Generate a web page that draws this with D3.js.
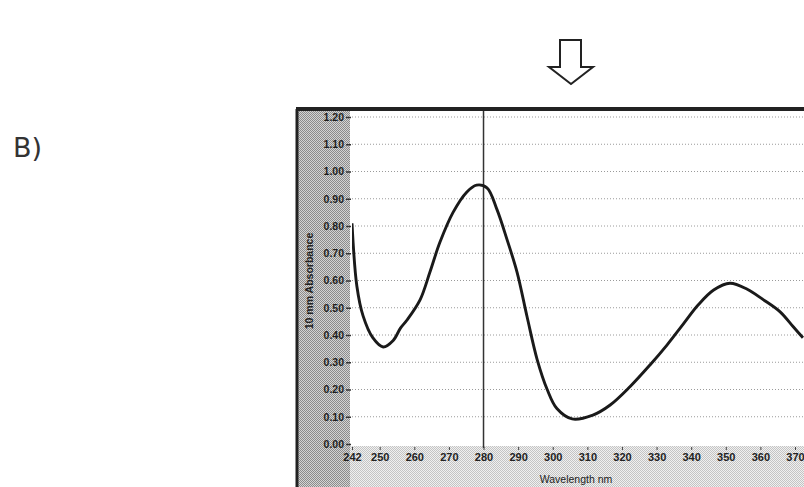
<!DOCTYPE html>
<html>
<head>
<meta charset="utf-8">
<script src="https://cdn.jsdelivr.net/npm/d3@7"></script>
<style>
	body { margin: 0; background: #fff; }
	svg { display: block; }
</style>
</head>
<body>
<svg id="chart" width="804" height="487"></svg>
<script>
// spectrum: wavelength (nm) and absorbance
var wavelength = [242, 243.4, 245.2, 248, 251, 253.9, 256, 257.9, 261.7, 264.5, 267.4, 271.2, 275.2, 278, 281,
	283.9, 286.8, 289.7, 292.6, 295.5, 298.4, 301.2, 305.6, 311.6, 316.6, 322.3, 328.1, 333, 337.7,
	342, 346.5, 351.2, 356.2, 360.8, 365.7, 369.5, 372.3];
var absorbance = [0.81, 0.58, 0.47, 0.39, 0.356, 0.38, 0.425, 0.455, 0.53, 0.63, 0.74, 0.85, 0.925, 0.95, 0.94,
	0.86, 0.75, 0.63, 0.466, 0.31, 0.20, 0.13, 0.092, 0.106, 0.143, 0.21, 0.29, 0.363, 0.44,
	0.51, 0.565, 0.59, 0.568, 0.53, 0.485, 0.43, 0.39];
var yTicks = [0, 0.1, 0.2, 0.3, 0.4, 0.5, 0.6, 0.7, 0.8, 0.9, 1.0, 1.1, 1.2];
var xTicks = [242, 250, 260, 270, 280, 290, 300, 310, 320, 330, 340, 350, 360, 370];
var markerNm = 280;

var svg = d3.select("#chart");

var frame = {left: 297, top: 109, plotLeft: 352, plotTop: 117, plotBottom: 444, right: 804, bottom: 487};

var scale_x = d3.scaleLinear()
	.domain([242, 372.6])
	.range([frame.plotLeft, frame.right]);
var scale_y = d3.scaleLinear()
	.domain([0, 1.2])
	.range([frame.plotBottom, frame.plotTop]);

//dithered grey like the scanned screen capture
var defs = svg.append("defs");
function dither(id, a, b){
	var p = defs.append("pattern")
		.attr("id", id)
		.attr("width", 2)
		.attr("height", 2)
		.attr("patternUnits", "userSpaceOnUse");
	p.append("rect").attr("width", 2).attr("height", 2).attr("fill", a);
	p.append("rect").attr("width", 1).attr("height", 1).attr("fill", b);
	p.append("rect").attr("x", 1).attr("y", 1).attr("width", 1).attr("height", 1).attr("fill", b);
}
dither("ditherDark", "#d4d4d4", "#8c8c8c");
dither("ditherLight", "#f0f0f0", "#c4c4c4");

defs.append("clipPath")
	.attr("id", "plotClip")
	.append("rect")
		.attr("x", frame.plotLeft)
		.attr("y", frame.top)
		.attr("width", frame.right - frame.plotLeft)
		.attr("height", frame.plotBottom - frame.top + 4);

// panel label
svg.append("text")
	.attr("x", 13)
	.attr("y", 157)
	.attr("font-family", "DejaVu Sans, sans-serif")
	.attr("font-size", 27)
	.attr("fill", "#333")
	.text("B)");

// hollow arrow pointing down at the chart
var arrowPath = d3.path();
arrowPath.moveTo(560, 40);
arrowPath.lineTo(581, 40);
arrowPath.lineTo(581, 67);
arrowPath.lineTo(593, 67);
arrowPath.lineTo(571, 84);
arrowPath.lineTo(549, 67);
arrowPath.lineTo(560, 67);
arrowPath.closePath();
svg.append("path")
	.attr("d", arrowPath.toString())
	.attr("fill", "#fff")
	.attr("stroke", "#222")
	.attr("stroke-width", 2)
	.attr("stroke-linejoin", "miter");

// axis panels
svg.append("rect")
	.attr("x", frame.left)
	.attr("y", frame.top)
	.attr("width", frame.plotLeft - frame.left - 2)
	.attr("height", frame.bottom - frame.top)
	.attr("fill", "url(#ditherDark)");
svg.append("rect")
	.attr("x", frame.plotLeft - 2)
	.attr("y", frame.plotBottom + 2)
	.attr("width", frame.right - frame.plotLeft + 2)
	.attr("height", frame.bottom - frame.plotBottom - 2)
	.attr("fill", "url(#ditherLight)");

// grid lines
svg.append("g")
	.attr("class", "grid")
	.selectAll("line")
	.data(yTicks.slice(1))
	.enter()
	.append("line")
		.attr("x1", frame.plotLeft)
		.attr("x2", frame.right)
		.attr("y1", function(d) {return scale_y(d);})
		.attr("y2", function(d) {return scale_y(d);})
		.attr("stroke", "#9a9a9a")
		.attr("stroke-width", 1)
		.attr("stroke-dasharray", "1,2");

// y axis
var yAxis = svg.append("g")
	.attr("transform", "translate(" + (frame.plotLeft - 1) + ",0)")
	.call(d3.axisLeft(scale_y)
		.tickValues(yTicks)
		.tickSize(5)
		.tickPadding(2)
		.tickFormat(d3.format(".2f")));
yAxis.select(".domain").remove();
yAxis.selectAll(".tick line").attr("stroke", "#333").attr("stroke-width", 1.5);
yAxis.selectAll(".tick text")
	.attr("font-family", "Liberation Sans, Arial, sans-serif")
	.attr("font-size", 10.5)
	.attr("font-weight", "bold")
	.attr("fill", "#1e1e1e");

svg.append("text")
	.attr("transform", "translate(313," + 281 + ") rotate(-90)")
	.attr("text-anchor", "middle")
	.attr("font-family", "Liberation Sans, Arial, sans-serif")
	.attr("font-size", 10.5)
	.attr("font-weight", "bold")
	.attr("fill", "#222")
	.text("10 mm Absorbance");

// x axis
var xAxis = svg.append("g")
	.attr("transform", "translate(0," + (frame.plotBottom + 3) + ")")
	.call(d3.axisBottom(scale_x)
		.tickValues(xTicks)
		.tickSize(3)
		.tickPadding(3)
		.tickFormat(d3.format("d")));
xAxis.select(".domain").remove();
xAxis.selectAll(".tick line").attr("stroke", "#444");
xAxis.selectAll(".tick text")
	.attr("font-family", "Liberation Sans, Arial, sans-serif")
	.attr("font-size", 11)
	.attr("font-weight", "bold")
	.attr("fill", "#222");

svg.append("text")
	.attr("x", 576)
	.attr("y", 483)
	.attr("text-anchor", "middle")
	.attr("font-family", "Liberation Sans, Arial, sans-serif")
	.attr("font-size", 10.5)
	.attr("fill", "#222")
	.text("Wavelength nm");

// marker line at the peak
svg.append("line")
	.attr("x1", scale_x(markerNm))
	.attr("x2", scale_x(markerNm))
	.attr("y1", frame.top + 2)
	.attr("y2", frame.plotBottom + 4)
	.attr("stroke", "#333")
	.attr("stroke-width", 1.5);

// spectrum
var line = d3.line()
	.x(function(d) {return scale_x(d[0]);})
	.y(function(d) {return scale_y(d[1]);})
	.curve(d3.curveCatmullRom.alpha(0.5));
svg.append("path")
	.datum(d3.zip(wavelength, absorbance))
	.attr("clip-path", "url(#plotClip)")
	.attr("d", line)
	.attr("fill", "none")
	.attr("stroke", "#1a1a1a")
	.attr("stroke-width", 2.9)
	.attr("stroke-linejoin", "round");

// window frame
svg.append("line")
	.attr("x1", frame.left - 1)
	.attr("x2", frame.right)
	.attr("y1", frame.top)
	.attr("y2", frame.top)
	.attr("stroke", "#222")
	.attr("stroke-width", 4);
svg.append("line")
	.attr("x1", frame.left)
	.attr("x2", frame.left)
	.attr("y1", frame.top)
	.attr("y2", frame.bottom)
	.attr("stroke", "#222")
	.attr("stroke-width", 3);
</script>
</body>
</html>
